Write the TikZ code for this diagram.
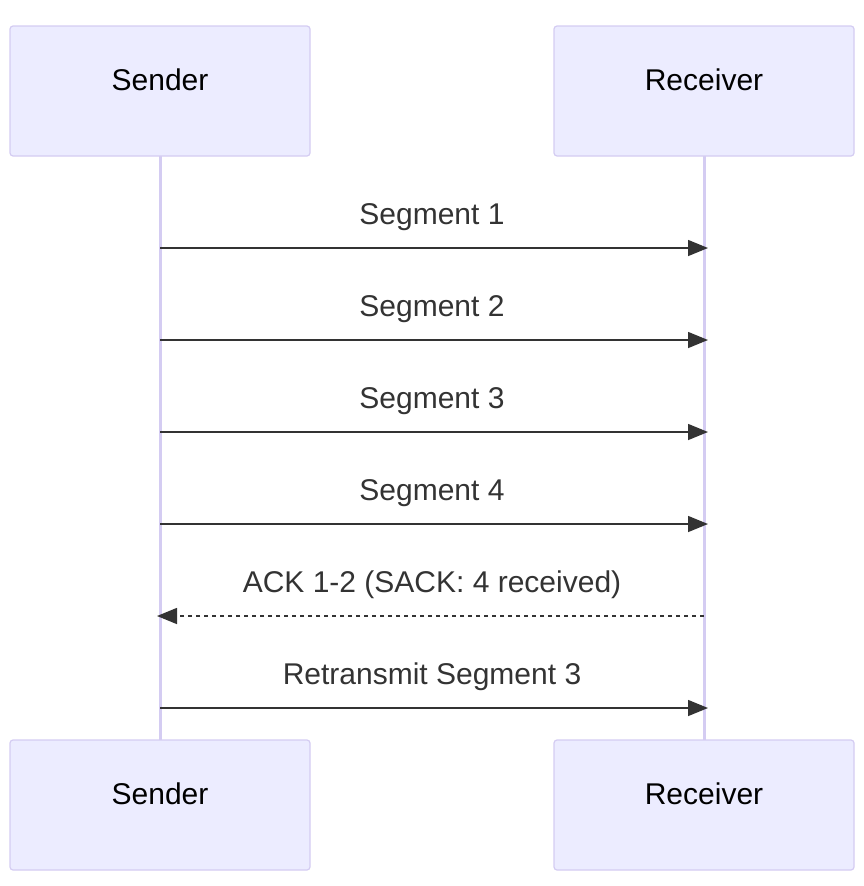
\documentclass[tikz,border=0pt]{standalone}
\usepackage{fontspec}
\setmainfont{Liberation Sans}
\usetikzlibrary{arrows.meta}
\definecolor{boxfill}{HTML}{ECECFF}
\definecolor{boxline}{HTML}{D4CCF2}
\definecolor{ink}{HTML}{333333}
\begin{document}
\begin{tikzpicture}[x=1pt,y=-1pt,
  actor/.style={draw=boxline,fill=boxfill,rounded corners=3pt,line width=1.2pt,minimum width=300pt,minimum height=130pt},
  alab/.style={font=\fontsize{30}{36}\selectfont,text=black},
  msg/.style={draw=ink,line width=1.5pt,-{Triangle[length=20pt,width=16pt]}},
  lbl/.style={font=\fontsize{30}{36}\selectfont,text=ink}]
\useasboundingbox (0,0) rectangle (864,886);
\draw[boxline,line width=3pt] (160,156) -- (160,740);
\draw[boxline,line width=3pt] (704,156) -- (704,740);
\node[actor] (s1) at (160,91) {};
\node[actor] (r1) at (704,91) {};
\node[actor] (s2) at (160,805) {};
\node[actor] (r2) at (704,805) {};
\node[alab] (ts1) at (160,80) {Sender};
\node[alab] (tr1) at (704,80) {Receiver};
\node[alab] (ts2) at (160,794) {Sender};
\node[alab] (tr2) at (704,794) {Receiver};
\foreach \y/\t [count=\i] in {248/Segment 1,340/Segment 2,432/Segment 3,524/Segment 4}{
  \coordinate (a\i) at (160,\y); \coordinate (b\i) at (708,\y);
  \draw[msg] (a\i) -- (b\i);
  \node[lbl] (l\i) at (432,\y-31) {\t};
}
\coordinate (a5) at (704,616); \coordinate (b5) at (157,616);
\draw[msg,dash pattern=on 4pt off 4pt] (a5) -- (b5);
\node[lbl] (l5) at (432,585) {ACK 1-2 (SACK: 4 received)};
\coordinate (a6) at (160,708); \coordinate (b6) at (708,708);
\draw[msg] (a6) -- (b6);
\node[lbl] (l6) at (432,677) {Retransmit Segment 3};
\end{tikzpicture}
\end{document}
